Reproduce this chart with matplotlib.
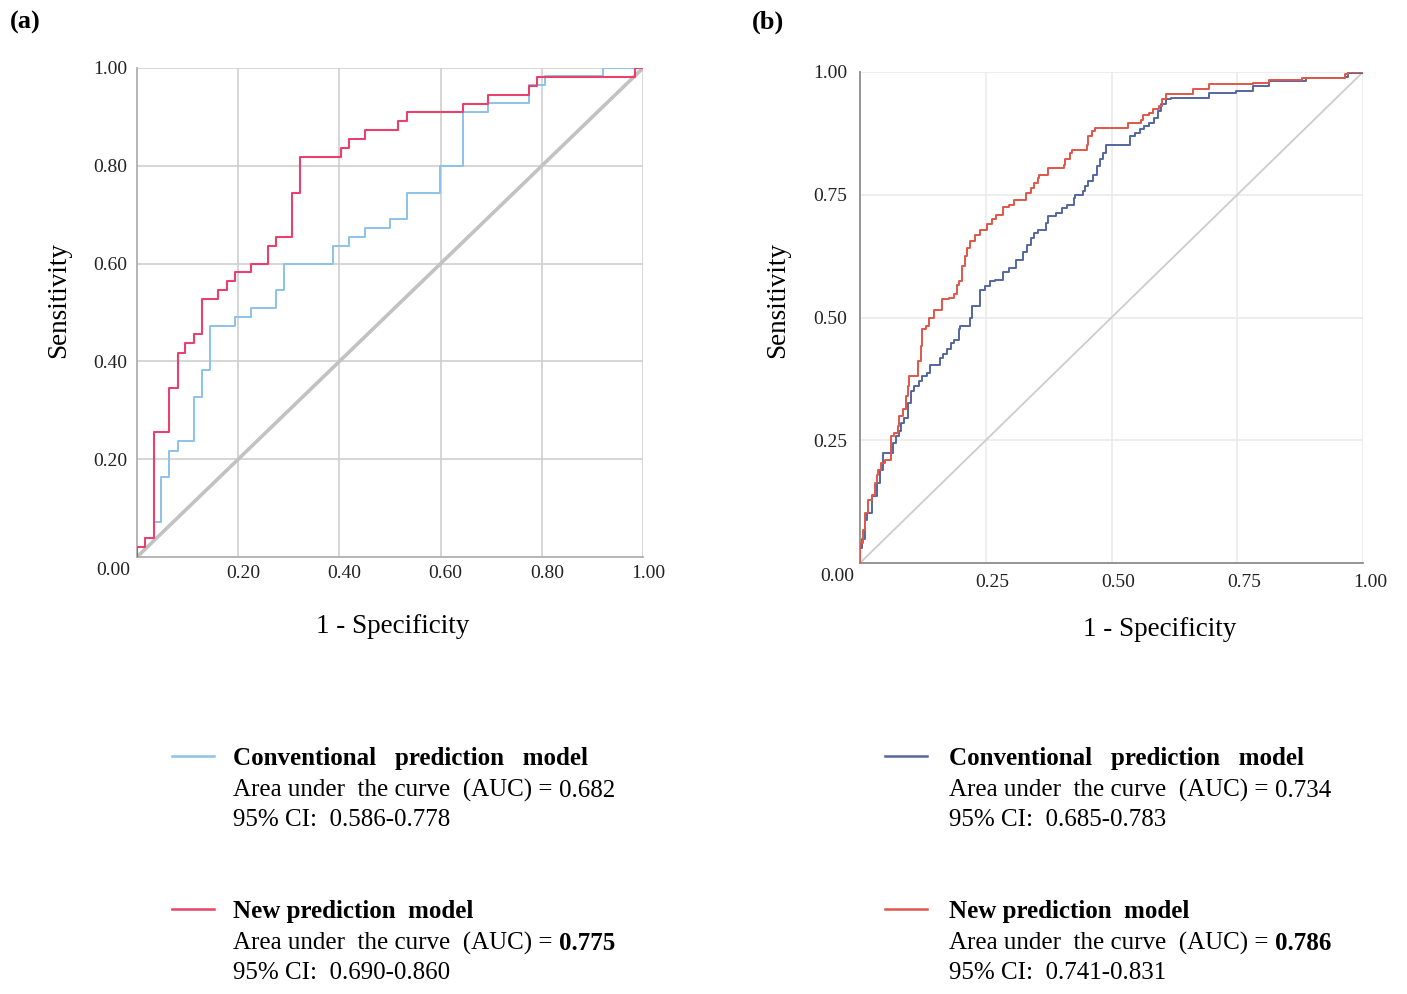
"""ROC curves of the conventional and the new prediction model, two cohorts."""

import numpy as np
import matplotlib.pyplot as plt
from matplotlib.lines import Line2D
from matplotlib.transforms import ScaledTranslation

plt.rcParams['font.family'] = ['Liberation Serif', 'DejaVu Serif']

# ---- data -----------------------------------------------------------------
# (a) step points: at fpr[i] the sensitivity jumps to tpr[i]
a_fpr_conv = [0, 0, 0.016, 0.033, 0.048, 0.064, 0.081, 0.112, 0.128, 0.145,
              0.194, 0.225, 0.274, 0.291, 0.387, 0.419, 0.451, 0.500, 0.533,
              0.599, 0.645, 0.694, 0.774, 0.807, 0.920, 1.0]
a_tpr_conv = [0, 0.020, 0.038, 0.072, 0.164, 0.217, 0.237, 0.328, 0.382, 0.472,
              0.491, 0.509, 0.546, 0.600, 0.636, 0.655, 0.673, 0.691, 0.745,
              0.800, 0.909, 0.928, 0.965, 0.983, 1.0, 1.0]
a_fpr_new = [0, 0, 0.016, 0.033, 0.064, 0.081, 0.095, 0.112, 0.128, 0.161,
             0.178, 0.194, 0.225, 0.258, 0.274, 0.306, 0.322, 0.403, 0.419,
             0.451, 0.516, 0.533, 0.645, 0.694, 0.774, 0.791, 0.984, 1.0]
a_tpr_new = [0, 0.020, 0.038, 0.256, 0.345, 0.418, 0.437, 0.456, 0.527, 0.546,
             0.565, 0.582, 0.600, 0.636, 0.655, 0.745, 0.818, 0.836, 0.855,
             0.873, 0.891, 0.909, 0.927, 0.945, 0.964, 0.982, 1.0, 1.0]

# (b)
b_fpr_conv = [0, 0, 0.003, 0.010, 0.013, 0.023, 0.033, 0.039, 0.046, 0.065,
              0.072, 0.078, 0.082, 0.088, 0.095, 0.101, 0.108, 0.117, 0.124, 0.134,
              0.140, 0.160, 0.166, 0.173, 0.180, 0.186, 0.196, 0.199, 0.219, 0.222,
              0.238, 0.248, 0.258, 0.268, 0.284, 0.297, 0.310, 0.324, 0.333, 0.340,
              0.346, 0.353, 0.369, 0.373, 0.389, 0.402, 0.412, 0.425, 0.428, 0.444,
              0.448, 0.454, 0.464, 0.471, 0.477, 0.484, 0.490, 0.536, 0.546, 0.556,
              0.565, 0.575, 0.585, 0.592, 0.598, 0.608, 0.618, 0.693, 0.748, 0.781,
              0.814, 0.886, 0.964, 0.971, 1.0]
b_tpr_conv = [0, 0.030, 0.048, 0.088, 0.102, 0.136, 0.163, 0.190, 0.224, 0.245,
              0.258, 0.268, 0.285, 0.296, 0.326, 0.350, 0.360, 0.370, 0.380, 0.387,
              0.404, 0.418, 0.425, 0.435, 0.448, 0.455, 0.476, 0.482, 0.499, 0.523,
              0.557, 0.564, 0.574, 0.577, 0.593, 0.600, 0.617, 0.634, 0.648, 0.661,
              0.672, 0.678, 0.692, 0.706, 0.713, 0.723, 0.730, 0.743, 0.750, 0.757,
              0.767, 0.777, 0.791, 0.808, 0.822, 0.835, 0.852, 0.869, 0.876, 0.883,
              0.890, 0.896, 0.907, 0.920, 0.934, 0.944, 0.948, 0.958, 0.961, 0.971,
              0.982, 0.988, 0.990, 0.997, 1.0]
b_fpr_new = [0, 0, 0.005, 0.010, 0.016, 0.023, 0.029, 0.033, 0.036, 0.042,
             0.049, 0.062, 0.068, 0.075, 0.078, 0.085, 0.091, 0.095, 0.098, 0.115,
             0.121, 0.124, 0.131, 0.137, 0.147, 0.163, 0.176, 0.186, 0.193, 0.196,
             0.202, 0.209, 0.212, 0.219, 0.228, 0.238, 0.252, 0.262, 0.271, 0.284,
             0.297, 0.307, 0.330, 0.340, 0.346, 0.353, 0.356, 0.373, 0.405, 0.408,
             0.418, 0.422, 0.451, 0.454, 0.461, 0.467, 0.533, 0.559, 0.562, 0.575,
             0.582, 0.595, 0.601, 0.608, 0.663, 0.693, 0.781, 0.814, 0.879, 0.964,
             0.971, 1.0]
b_tpr_new = [0, 0.041, 0.068, 0.102, 0.129, 0.139, 0.163, 0.180, 0.190, 0.204,
             0.210, 0.258, 0.265, 0.279, 0.299, 0.313, 0.340, 0.360, 0.380, 0.411,
             0.442, 0.476, 0.482, 0.499, 0.516, 0.537, 0.540, 0.547, 0.567, 0.574,
             0.605, 0.625, 0.642, 0.656, 0.669, 0.679, 0.690, 0.700, 0.709, 0.726,
             0.730, 0.740, 0.753, 0.764, 0.774, 0.784, 0.791, 0.804, 0.811, 0.822,
             0.835, 0.842, 0.852, 0.869, 0.879, 0.886, 0.896, 0.903, 0.913, 0.917,
             0.924, 0.931, 0.944, 0.956, 0.965, 0.975, 0.978, 0.984, 0.988, 0.995,
             0.999, 1.0]

a_ticks = [0.2, 0.4, 0.6, 0.8, 1.0]
a_ticklabels = ['0.20', '0.40', '0.60', '0.80', '1.00']
b_ticks = [0.25, 0.5, 0.75, 1.0]
b_ticklabels = ['0.25', '0.50', '0.75', '1.00']

model_names = ['Conventional   prediction   model', 'New prediction  model']
a_auc = ['0.682', '0.775']
a_ci = ['0.586-0.778', '0.690-0.860']
b_auc = ['0.734', '0.786']
b_ci = ['0.685-0.783', '0.741-0.831']

# colours
A_BLUE, A_RED = '#8cc2ea', '#e8416b'
B_BLUE, B_RED = '#53669f', '#e0574a'

TICK_FS = 14
LABEL_FS = 19.5
LEG_FS = 18

W, H = 1407, 994
fig = plt.figure(figsize=(W / 100, H / 100), dpi=100)
fig.patch.set_facecolor('white')


def px(x, y):
    """pixel position -> figure fraction"""
    return x / W, 1 - y / H


def setup_axes(ax, ticks, ticklabels, grid_col, spine_col, xpad, ypad, xshift):
    ax.set_xlim(0, 1)
    ax.set_ylim(0, 1)
    ax.set_xticks(ticks)
    ax.set_xticklabels(ticklabels)
    ax.set_yticks(ticks)
    ax.set_yticklabels(ticklabels)
    ax.tick_params(length=0, labelsize=TICK_FS, labelcolor='#222222')
    ax.tick_params(axis='x', pad=xpad)
    ax.tick_params(axis='y', pad=ypad)
    # x tick labels sit a little right of their gridline in the original
    off = ScaledTranslation(xshift / 100, 0, fig.dpi_scale_trans)
    for lab in ax.get_xticklabels():
        lab.set_transform(lab.get_transform() + off)
    ax.grid(True, color=grid_col, lw=1.2)
    ax.set_axisbelow(True)
    for s in ['top', 'right']:
        ax.spines[s].set_visible(False)
    for s in ['left', 'bottom']:
        ax.spines[s].set_color(spine_col)
        ax.spines[s].set_linewidth(1.3)


# ---- panel (a) -------------------------------------------------------------
l, t = px(137, 68)
r, b = px(643, 557)
ax1 = fig.add_axes([l, b, r - l, t - b])
setup_axes(ax1, a_ticks, a_ticklabels, '#cfcfcf', '#b0b0b0', 6, 7, 5)
ax1.plot([0, 1], [0, 1], color='#c2c2c2', lw=2.6, zorder=2)
ax1.plot(a_fpr_conv, a_tpr_conv, drawstyle='steps-post', color=A_BLUE, lw=1.4, zorder=3)
ax1.plot(a_fpr_new, a_tpr_new, drawstyle='steps-post', color=A_RED, lw=1.5, zorder=4)
ax1.annotate('0.00', xy=(0, 0), xycoords='axes fraction', xytext=(-17.3, -9.4),
             textcoords='offset points', ha='center', va='center', fontsize=TICK_FS,
             color='#222222')
ax1.set_xlabel('1 - Specificity', fontsize=LABEL_FS)
ax1.set_ylabel('Sensitivity', fontsize=LABEL_FS)
ax1.xaxis.set_label_coords(0.506, -0.117)
ax1.yaxis.set_label_coords(-0.131, 0.525)

# ---- panel (b) -------------------------------------------------------------
l, t = px(860, 72)
r, b = px(1363, 563)
ax2 = fig.add_axes([l, b, r - l, t - b])
setup_axes(ax2, b_ticks, b_ticklabels, '#ebebeb', '#8c8c8c', 8, 9, 7)
ax2.plot([0, 1], [0, 1], color='#cccccc', lw=1.3, zorder=2)
ax2.plot(b_fpr_conv, b_tpr_conv, drawstyle='steps-post', color=B_BLUE, lw=1.4, zorder=3)
ax2.plot(b_fpr_new, b_tpr_new, drawstyle='steps-post', color=B_RED, lw=1.4, zorder=4)
ax2.annotate('0.00', xy=(0, 0), xycoords='axes fraction', xytext=(-16.5, -10),
             textcoords='offset points', ha='center', va='center', fontsize=TICK_FS,
             color='#222222')
ax2.set_xlabel('1 - Specificity', fontsize=LABEL_FS)
ax2.set_ylabel('Sensitivity', fontsize=LABEL_FS)
ax2.xaxis.set_label_coords(0.596, -0.11)
ax2.yaxis.set_label_coords(-0.138, 0.536)

# panel letters
fig.text(*px(25, 22), '(a)', fontsize=19, fontweight='bold', ha='center', va='center')
fig.text(*px(768, 22), '(b)', fontsize=19, fontweight='bold', ha='center', va='center')


# ---- legends ---------------------------------------------------------------
auc_pairs = []


def legend_block(x_line, x_text, y_base, colors, aucs, cis):
    for i in range(2):
        y0 = y_base + i * 153
        x0, y_line = px(x_line, y0 - 9)
        x1, _ = px(x_line + 42, y0 - 9)
        fig.add_artist(Line2D([x0, x1], [y_line, y_line], color=colors[i], lw=1.8,
                              transform=fig.transFigure))
        fig.text(*px(x_text, y0), model_names[i], fontsize=LEG_FS, fontweight='bold',
                 va='baseline', ha='left')
        pos = px(x_text, y0 + 32)
        lead = fig.text(*pos, 'Area under  the curve  (AUC) = ', fontsize=LEG_FS,
                        va='baseline', ha='left')
        val = fig.text(*pos, aucs[i], fontsize=LEG_FS, va='baseline', ha='left',
                       fontweight='bold' if i == 1 else 'normal')
        auc_pairs.append((lead, val))
        fig.text(*px(x_text, y0 + 61), '95% CI:  ' + cis[i], fontsize=LEG_FS,
                 va='baseline', ha='left')


legend_block(172, 233, 765, [A_BLUE, A_RED], a_auc, a_ci)
legend_block(885, 949, 765, [B_BLUE, B_RED], b_auc, b_ci)

# put each AUC value right after its "=" text
fig.canvas.draw()
renderer = fig.canvas.get_renderer()
for lead, val in auc_pairs:
    bb = lead.get_window_extent(renderer)
    val.set_position((bb.x1 / W, val.get_position()[1]))

fig.savefig('out.png', dpi=100, facecolor='white')
